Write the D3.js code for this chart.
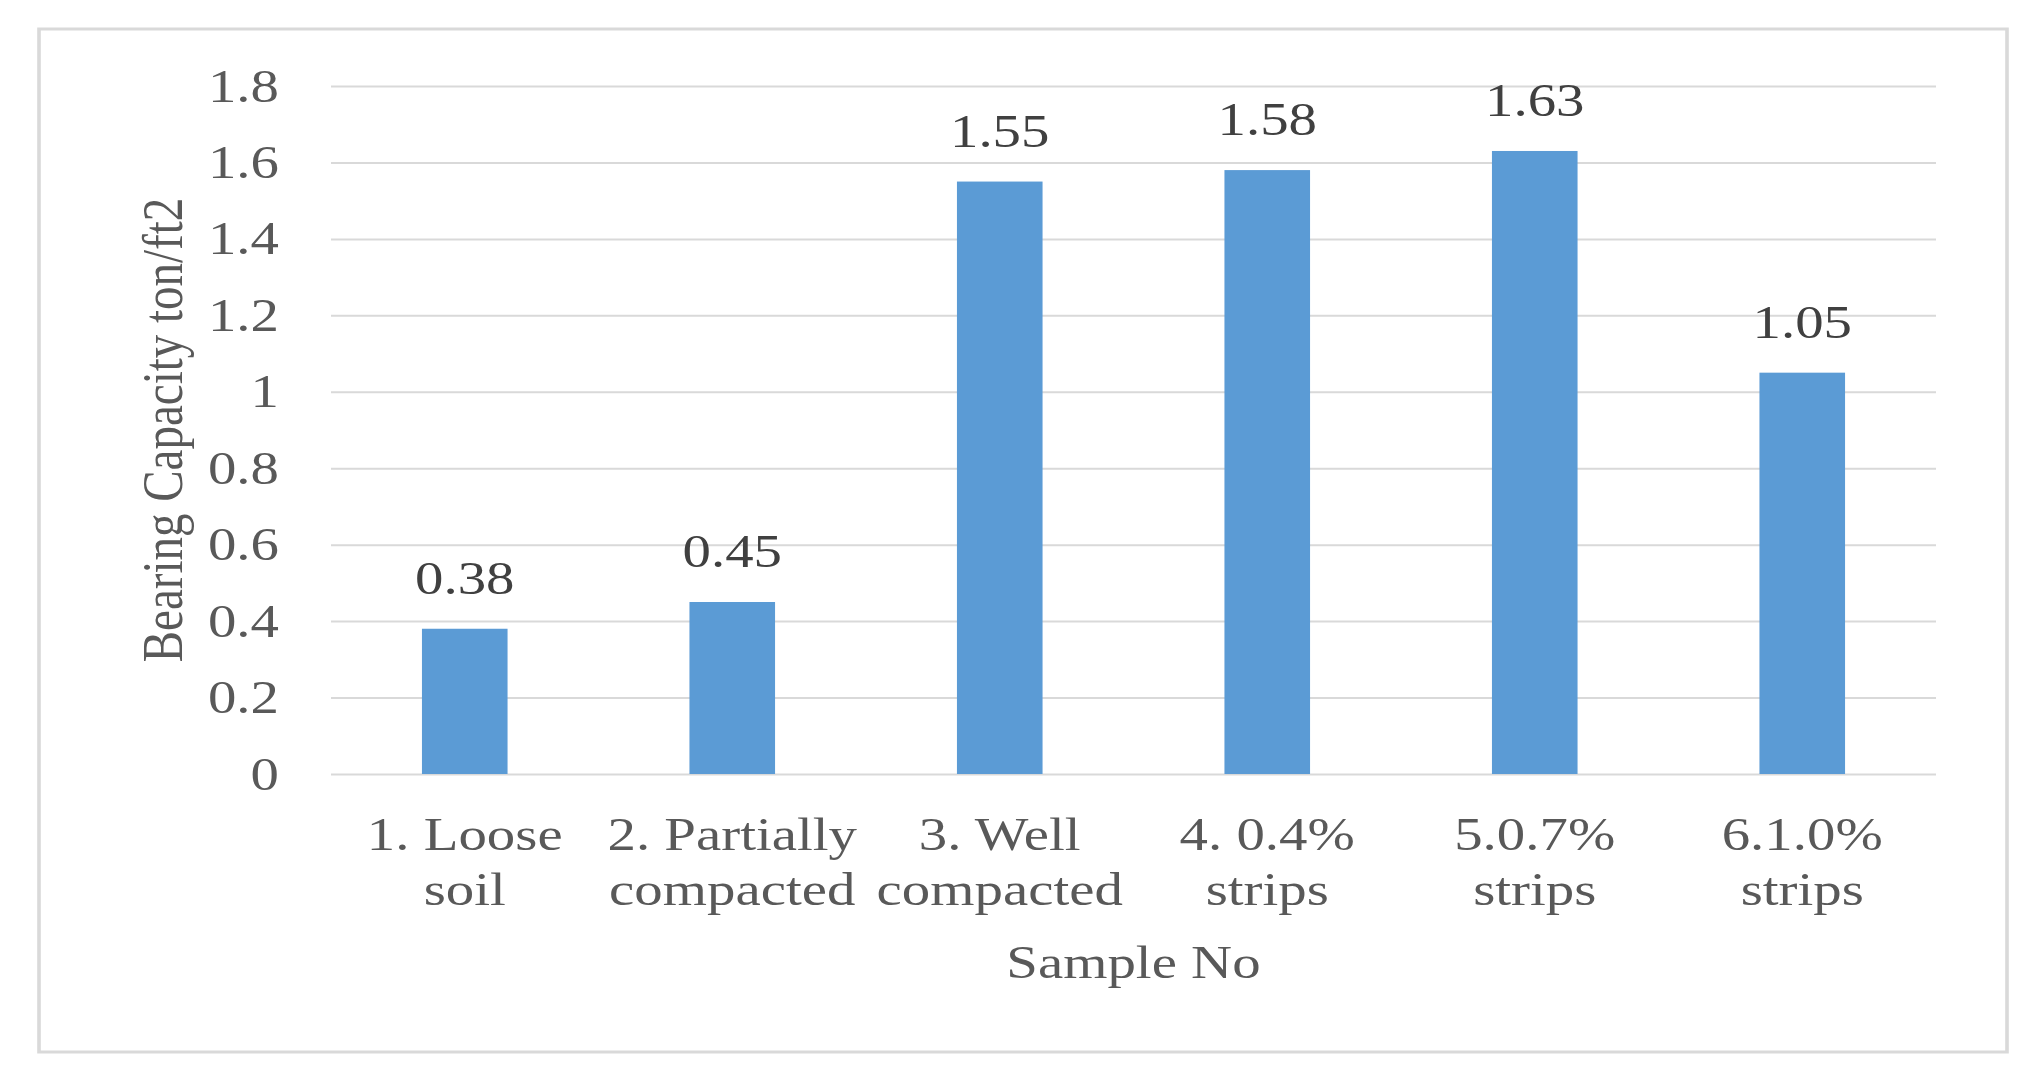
<!DOCTYPE html>
<html>
<head>
<meta charset="utf-8">
<script src="https://cdn.jsdelivr.net/npm/d3@7"></script>
<style>
  html, body { margin: 0; padding: 0; background: #fff; }
  svg { display: block; }
  text { font-family: "Liberation Serif", "Times New Roman", serif; }
</style>
</head>
<body>
<div id="chart"></div>
<script>
// data
var categories = ["1. Loose soil", "2. Partially compacted", "3. Well compacted",
                  "4. 0.4% strips", "5.0.7% strips", "6.1.0% strips"];
var labelLines = [["1. Loose", "soil"], ["2. Partially", "compacted"], ["3. Well", "compacted"],
                  ["4. 0.4%", "strips"], ["5.0.7%", "strips"], ["6.1.0%", "strips"]];
var values = [0.38, 0.45, 1.55, 1.58, 1.63, 1.05];
var yTicks = [0, 0.2, 0.4, 0.6, 0.8, 1, 1.2, 1.4, 1.6, 1.8];
var xTitle = "Sample No";
var yTitle = "Bearing Capacity ton/ft2";

var W = 2044, H = 1080;
var SX = 1.21;   // the reference is stretched sideways, so is the text
var px = function(v) { return v / SX; };  // screen px -> viewBox units

// plot area in screen px (note: "top" is taken by window.top)
var pL = 331, pR = 1936, pT = 86, pB = 774;
var fontSize = 47;

var svg = d3.select("#chart")
  .append("svg")
  .attr("width", W)
  .attr("height", H)
  .attr("viewBox", "0 0 " + px(W) + " " + H)
  .attr("preserveAspectRatio", "none");

// outer frame
svg.append("rect")
  .attr("x", px(39))
  .attr("y", 29)
  .attr("width", px(2007 - 39))
  .attr("height", 1052 - 29)
  .attr("fill", "#fff")
  .attr("stroke", "#d9d9d9")
  .attr("stroke-width", 3);

var x = d3.scaleBand()
  .domain(categories)
  .range([px(pL), px(pR)])
  .paddingInner(0.68)
  .paddingOuter(0.34);

var y = d3.scaleLinear()
  .domain([0, 1.8])
  .range([pB, pT]);

// y axis with gridlines
var yAxis = svg.append("g")
  .attr("transform", "translate(" + px(pL) + ",0)")
  .call(d3.axisLeft(y)
    .tickValues(yTicks)
    .tickFormat(function(d) { return String(d); })
    .tickSize(-(px(pR) - px(pL)))
    .tickPadding(px(52)));

yAxis.select(".domain").remove();
yAxis.selectAll(".tick line")
  .attr("stroke", "#d9d9d9")
  .attr("stroke-width", 2);
yAxis.selectAll(".tick text")
  .attr("fill", "#595959")
  .style("font-size", fontSize + "px")
  .style("font-family", "'Liberation Serif', 'Times New Roman', serif");

// bars
svg.append("g")
  .selectAll("rect.bar")
  .data(values)
  .enter()
  .append("rect")
  .classed("bar", true)
  .attr("x", function(d, i) { return x(categories[i]); })
  .attr("width", x.bandwidth())
  .attr("y", function(d) { return y(d); })
  .attr("height", function(d) { return y(0) - y(d); })
  .attr("fill", "#5b9bd5");

// value labels
svg.append("g")
  .selectAll("text.value")
  .data(values)
  .enter()
  .append("text")
  .classed("value", true)
  .attr("x", function(d, i) { return x(categories[i]) + x.bandwidth() / 2; })
  .attr("y", function(d) { return y(d) - 35; })
  .attr("text-anchor", "middle")
  .attr("fill", "#404040")
  .style("font-size", fontSize + "px")
  .text(function(d) { return d.toFixed(2); });

// category labels, two lines each
var cat = svg.append("g")
  .selectAll("text.cat")
  .data(categories)
  .enter()
  .append("text")
  .classed("cat", true)
  .attr("text-anchor", "middle")
  .attr("fill", "#595959")
  .style("font-size", fontSize + "px");

cat.selectAll("tspan")
  .data(function(d, i) { return labelLines[i]; })
  .enter()
  .append("tspan")
  .attr("x", function() {
    var c = d3.select(this.parentNode).datum();
    return x(c) + x.bandwidth() / 2;
  })
  .attr("y", function(d, j) { return 850 + j * 55; })
  .text(function(d) { return d; });

// axis titles
svg.append("text")
  .attr("x", px((pL + pR) / 2))
  .attr("y", 978)
  .attr("text-anchor", "middle")
  .attr("fill", "#595959")
  .style("font-size", fontSize + "px")
  .text(xTitle);

svg.append("text")
  .attr("transform", "translate(" + px(163) + "," + ((pT + pB) / 2) + ") rotate(-90)")
  .attr("text-anchor", "middle")
  .attr("dominant-baseline", "central")
  .attr("fill", "#595959")
  .style("font-size", fontSize + "px")
  .text(yTitle);
</script>
</body>
</html>
